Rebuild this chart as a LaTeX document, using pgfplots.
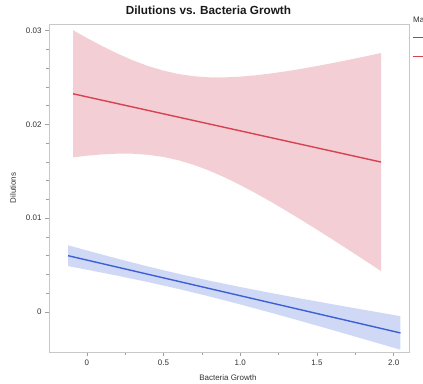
\documentclass[border=0pt]{standalone}
\usepackage{pgfplots}
\pgfplotsset{compat=1.18}
\usepackage{fontspec}
\setmainfont{Liberation Sans}
\definecolor{redline}{RGB}{214,66,80}
\definecolor{redband}{RGB}{243,206,212}
\definecolor{blueline}{RGB}{61,95,214}
\definecolor{blueband}{RGB}{207,217,245}
\definecolor{framegray}{RGB}{200,200,200}
\definecolor{textgray}{RGB}{51,51,51}
\begin{document}
\begin{tikzpicture}
\begin{axis}[
  scale only axis, width=360bp, height=328bp,
  at={(0,0)}, anchor=south west,
  xmin=-0.246, xmax=2.10, ymin=-0.00427, ymax=0.0307,
  axis line style={framegray},
  tick align=outside, major tick length=4bp, minor tick length=2.5bp,
  every tick/.style={framegray!80!black, line width=0.4pt},
  scaled x ticks=false, scaled y ticks=false,
  xtick={0,0.5,1,1.5,2}, xticklabels={0,0.5,1.0,1.5,2.0},
  ytick={0,0.01,0.02,0.03}, yticklabels={0,0.01,0.02,0.03},
  minor x tick num=1, minor y tick num=4,
  xtick pos=bottom, ytick pos=left,
  tick label style={font=\fontsize{8}{9}\selectfont, text=textgray},
  /pgf/number format/assume math mode=true,
  title={Dilutions vs. Bacteria Growth},
  title style={font=\fontsize{11.8}{13}\selectfont\bfseries, text=black!90, at={(axis description cs:0.443,1.024)}, anchor=center},
  xlabel={Bacteria Growth}, ylabel={Dilutions},
  xlabel style={font=\fontsize{8}{9}\selectfont, text=textgray, at={(axis description cs:0.497,-0.079)}, anchor=center},
  ylabel style={font=\fontsize{8}{9}\selectfont, text=textgray, at={(axis description cs:-0.1,0.5)}, anchor=center},
  clip=false,
]
% red confidence band
\addplot[fill=redband, draw=none] coordinates {
(-0.089,0.03004) (0,0.029218) (0.1,0.028349) (0.2,0.027548) (0.3,0.02683) (0.4,0.026216)
(0.5,0.025723) (0.6,0.02536) (0.7,0.025128) (0.8,0.025016) (0.9,0.025009) (1.0,0.025085)
(1.1,0.025228) (1.2,0.025424) (1.3,0.025659) (1.4,0.025926) (1.5,0.026218) (1.6,0.026528)
(1.7,0.026854) (1.8,0.027194) (1.918,0.027606)
(1.918,0.004354) (1.8,0.005624) (1.7,0.006688) (1.6,0.00774) (1.5,0.008776) (1.4,0.009792)
(1.3,0.010785) (1.2,0.011746) (1.1,0.012666) (1.0,0.013535) (0.9,0.014337) (0.8,0.015054)
(0.7,0.015668) (0.6,0.016162) (0.5,0.016525) (0.4,0.016756) (0.3,0.016868) (0.2,0.016876)
(0.1,0.016799) (0,0.016656) (-0.089,0.01648)
} -- cycle;
% blue confidence band
\addplot[fill=blueband, draw=none] coordinates {
(-0.122,0.00711) (0,0.006559) (0.2,0.005681) (0.4,0.004843) (0.6,0.00406) (0.8,0.003333)
(1.0,0.002659) (1.2,0.002024) (1.4,0.001415) (1.6,0.000825) (1.8,0.000246) (2.044,-0.000448)
(2.044,-0.004026) (1.8,-0.002866) (1.6,-0.001923) (1.4,-0.000993) (1.2,-0.00008) (1.0,0.000805)
(0.8,0.001651) (0.6,0.002446) (0.4,0.003183) (0.2,0.003867) (0,0.004509) (-0.122,0.004886)
} -- cycle;
% fitted lines
\addplot[redline, line width=1.4pt] coordinates {(-0.089,0.02326) (1.918,0.01598)};
\addplot[blueline, line width=1.4pt] coordinates {(-0.122,0.005998) (2.044,-0.002237)};
% legend (clipped at the picture edge)
\node[anchor=west, inner sep=0pt, font=\fontsize{8}{9}\selectfont, text=textgray] at (rel axis cs:1.011,1.012) {Ma};
\draw[draw=blueline, line width=1.4pt] (rel axis cs:1.011,0.958) -- (rel axis cs:1.08,0.958);
\draw[draw=redline, line width=1.4pt] (rel axis cs:1.011,0.9) -- (rel axis cs:1.08,0.9);
\end{axis}
\pgfresetboundingbox
\useasboundingbox (-49bp,-32bp) rectangle (374bp,352bp);
\end{tikzpicture}
\end{document}
